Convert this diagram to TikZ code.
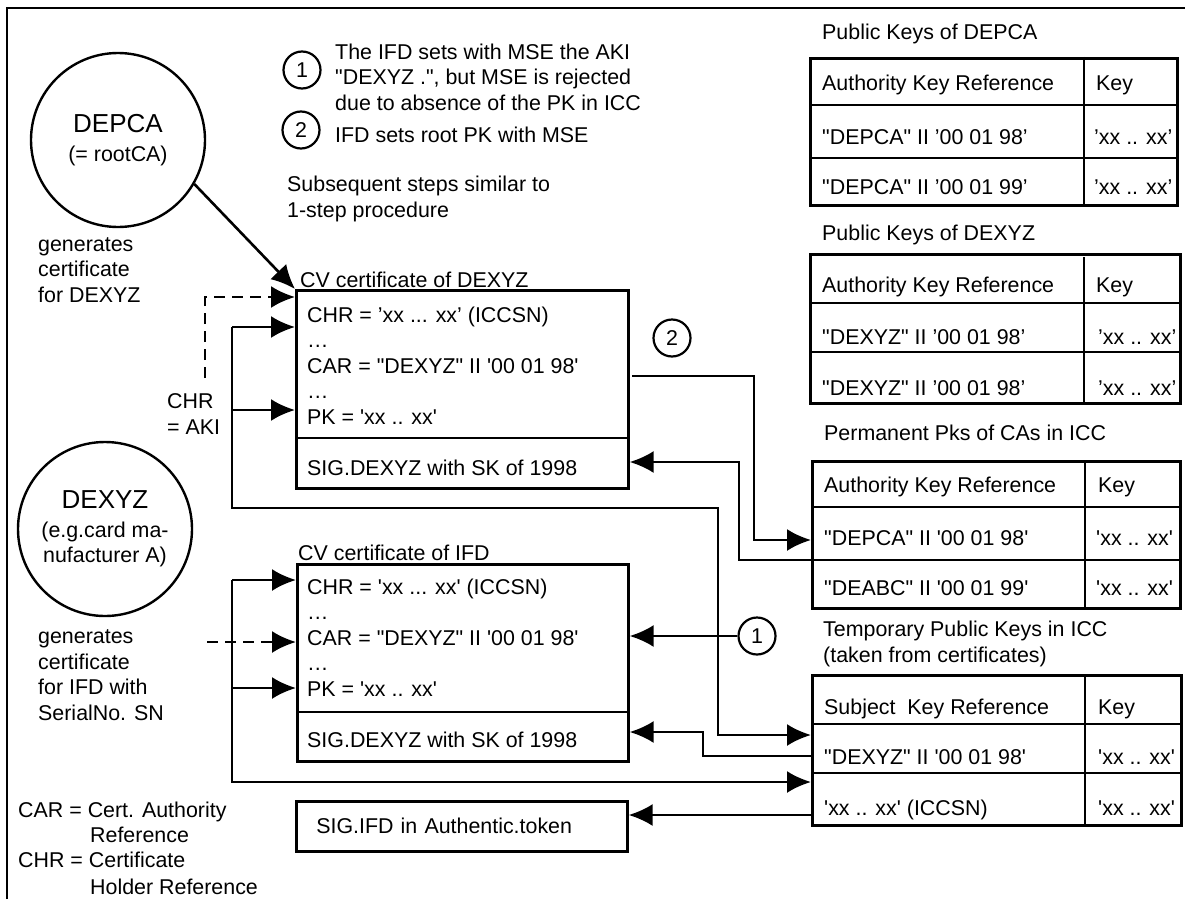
\documentclass[tikz,border=0pt]{standalone}
\usepackage{fontspec}
\setmainfont{Liberation Sans}[Ligatures=TeXOff]
\usetikzlibrary{arrows.meta,positioning,calc}

\begin{document}
\begin{tikzpicture}[x=1pt, y=-1pt,
  font=\fontsize{21.4}{25.4}\selectfont,
  txt/.style={inner sep=0pt, anchor=base west, align=left},
  box/.style={draw, line width=2.6pt, anchor=north west, inner sep=0pt},
  num/.style={draw, circle, line width=2.2pt, minimum size=37pt, inner sep=0pt},
  ca/.style={draw, circle, line width=2.4pt, minimum size=174pt, inner sep=0pt, align=center},
  link/.style={line width=2.6pt},
  arrow/.style={link, -{Latex[length=24pt, width=22pt]}},
  genarrow/.style={arrow, dash pattern=on 11pt off 7pt}]

\useasboundingbox (0,0) rectangle (1185,899);
\draw[line width=2.6pt] (7,899) -- (7,8) -- (1185,8);

% certification authorities
\node[ca] (depca) at (118,140) {{\fontsize{26}{30}\selectfont DEPCA}\\[4pt](= rootCA)};
\node[ca] (dexyz) at (105,529) {{\fontsize{26}{30}\selectfont DEXYZ}\\[3pt](e.g.card ma-\\nufacturer A)};

% multi-line texts are placed by the baseline of their last line
\node[txt] (gen1) at (38,302) {generates\\certificate\\for DEXYZ};
\node[txt] (chraki) at (167,434) {CHR\\= AKI};
\node[txt] (gen2) at (38,720) {generates\\certificate\\for IFD with\\SerialNo. SN};

\node[txt] (carleg) at (18,817) {CAR = Cert. Authority};
\node[txt] (carleg2) at (90,842) {Reference};
\node[txt] (chrleg) at (18,867) {CHR = Certificate};
\node[txt] (chrleg2) at (90,894) {Holder Reference};

% notes
\node[num] (c1) at (302,70) {1};
\node[txt] (note1) at (335,110) {The IFD sets with MSE the AKI\\"DEXYZ .", but MSE is rejected\\due to absence of the PK in ICC};
\node[num] (c2) at (301,130) {2};
\node[txt] (note2) at (335,142) {IFD sets root PK with MSE};
\node[txt] (note3) at (287,217) {Subsequent steps similar to\\1-step procedure};

% CV certificate of DEXYZ
\node[txt] (cert1title) at (300,287) {CV certificate of DEXYZ};
\node[box, minimum width=332pt, minimum height=198pt] (cert1) at (295,289) {};
\draw[link] (295,438) -- (627,438);
\node[txt] (cert1body) at (307,424) {CHR = ’xx ... xx’ (ICCSN)\\…\\CAR = "DEXYZ" II '00 01 98'\\…\\PK = 'xx .. xx'};
\node[txt] (cert1sig) at (307,475) {SIG.DEXYZ with SK of 1998};

% CV certificate of IFD
\node[txt] (cert2title) at (298,560) {CV certificate of IFD};
\node[box, minimum width=331pt, minimum height=197pt] (cert2) at (296,563) {};
\draw[link] (296,712) -- (627,712);
\node[txt] (cert2body) at (307,696) {CHR = 'xx ... xx' (ICCSN)\\…\\CAR = "DEXYZ" II '00 01 98'\\…\\PK = 'xx .. xx'};
\node[txt] (cert2sig) at (307,747) {SIG.DEXYZ with SK of 1998};

\node[box, text width=291pt, inner xsep=20pt, minimum height=50pt, align=left] (sigifd) at (295,800) {SIG.IFD in Authentic.token};

% Public keys of DEPCA
\node[txt] (pkdepcatitle) at (822,40) {Public Keys of DEPCA};
\node[box, minimum width=367pt, minimum height=147pt] (pkdepca) at (809,57) {};
\draw[link] (809,105) -- (1176,105);
\draw[link] (809,158) -- (1176,158);
\draw[link] (1084,57) -- (1084,204);
\node[txt] (akr1) at (822,90) {Authority Key Reference};
\node[txt] (key1) at (1096,90) {Key};
\node[txt] (r1a) at (822,144) {"DEPCA" II ’00 01 98’};
\node[txt] (v1a) at (1094,144) {’xx .. xx’};
\node[txt] (r1b) at (822,194) {"DEPCA" II ’00 01 99’};
\node[txt] (v1b) at (1094,194) {’xx .. xx’};

% Public keys of DEXYZ
\node[txt] (pkdexyztitle) at (822,240) {Public Keys of DEXYZ};
\node[box, minimum width=370pt, minimum height=149pt] (pkdexyz) at (809,253) {};
\draw[link] (809,303) -- (1179,303);
\draw[link] (809,352) -- (1179,352);
\draw[link] (1084,257) -- (1084,402);
\node[txt] (akr2) at (822,292) {Authority Key Reference};
\node[txt] (key2) at (1096,292) {Key};
\node[txt] (r2a) at (822,344) {"DEXYZ" II ’00 01 98’};
\node[txt] (v2a) at (1098,344) {’xx .. xx’};
\node[txt] (r2b) at (822,395) {"DEXYZ" II ’00 01 98’};
\node[txt] (v2b) at (1098,395) {’xx .. xx’};

% Permanent keys in ICC
\node[txt] (permtitle) at (824,440) {Permanent Pks of CAs in ICC};
\node[box, minimum width=368pt, minimum height=147pt] (perm) at (811,460) {};
\draw[link] (811,507) -- (1179,507);
\draw[link] (811,560) -- (1179,560);
\draw[link] (1085,460) -- (1085,607);
\node[txt] (akr3) at (824,492) {Authority Key Reference};
\node[txt] (key3) at (1098,492) {Key};
\node[txt] (r3a) at (824,545) {"DEPCA" II '00 01 98'};
\node[txt] (v3a) at (1096,545) {'xx .. xx'};
\node[txt] (r3b) at (824,595) {"DEABC" II '00 01 99'};
\node[txt] (v3b) at (1096,595) {'xx .. xx'};

% Temporary keys in ICC
\node[txt] (temptitle) at (823,662) {Temporary Public Keys in ICC\\(taken from certificates)};
\node[box, minimum width=369pt, minimum height=150pt] (temp) at (811,674) {};
\draw[link] (811,724) -- (1180,724);
\draw[link] (811,773) -- (1180,773);
\draw[link] (1085,674) -- (1085,824);
\node[txt] (skr) at (824,714) {Subject\ \ Key Reference};
\node[txt] (key4) at (1098,714) {Key};
\node[txt] (r4a) at (824,764) {"DEXYZ" II '00 01 98'};
\node[txt] (v4a) at (1098,764) {'xx .. xx'};
\node[txt] (r4b) at (824,815) {'xx .. xx' (ICCSN)};
\node[txt] (v4b) at (1098,815) {'xx .. xx'};

% step markers
\node[num] (c2b) at (672,338) {2};
\node[num] (c1b) at (757,636) {1};

% Arrows
\draw[arrow] (depca.-30) -- (cert1.north west);

\coordinate (d1) at (205,378);
\coordinate (d1end) at (295,297);
\draw[genarrow] (d1) |- (d1end);
\coordinate (d2) at (207,642);
\draw[genarrow] (d2) -- (d2 -| cert2.west);

\coordinate (chr1) at (232,327);
\coordinate (pk1) at (232,410);
\coordinate (low1) at (232,508);
\coordinate (turn1) at (718,735);
\draw[arrow] (chr1) -- (chr1 -| cert1.west);
\draw[arrow] (pk1) -- (pk1 -| cert1.west);
\draw[arrow] (chr1) -- (low1) -| (turn1) -- (turn1 -| temp.west);

\coordinate (chr2) at (232,580);
\coordinate (pk2) at (232,688);
\coordinate (low2) at (232,782);
\draw[arrow] (chr2) -- (chr2 -| cert2.west);
\draw[arrow] (pk2) -- (pk2 -| cert2.west);
\draw[arrow] (chr2) -- (low2) -- (low2 -| temp.west);

\coordinate (out2) at (632,376);
\coordinate (bend2) at (754,540);
\draw[arrow] (out2) -| (bend2) -- (bend2 -| perm.west);
\coordinate (ret1) at (739,560);
\coordinate (ret1top) at (739,462);
\draw[arrow] (ret1 -| perm.west) -- (ret1) -- (ret1top) -- (ret1top -| cert1.east);

\draw[arrow] (c1b) -- (c1b -| cert2.east);

\coordinate (ret2) at (703,756);
\coordinate (ret2top) at (703,732);
\draw[arrow] (ret2 -| temp.west) -- (ret2) -- (ret2top) -- (ret2top -| cert2.east);

\coordinate (tok) at (811,815);
\draw[arrow] (tok -| temp.west) -- (tok -| sigifd.east);

\end{tikzpicture}
\end{document}
